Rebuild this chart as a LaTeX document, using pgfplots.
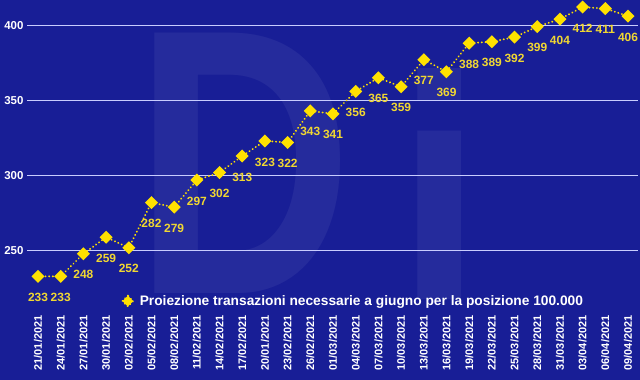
\documentclass[border=0pt]{standalone}
\usepackage{fontspec}
\setmainfont{Liberation Sans}
\usepackage{pgfplots}
\pgfplotsset{compat=1.18}
\definecolor{bg}{RGB}{24,30,150}
\definecolor{gridc}{RGB}{200,205,255}
\definecolor{ylw}{RGB}{255,225,0}
\definecolor{lbl}{RGB}{240,215,50}
\begin{document}
\begin{tikzpicture}
\fill[bg] (0bp,0bp) rectangle (640bp,380bp);
\useasboundingbox (0bp,0bp) rectangle (640bp,380bp);
\node[font=\fontsize{380}{380}\selectfont\bfseries, text=white, opacity=0.06, inner sep=0, xscale=0.8, anchor=base] at (244bp,86bp) {D};
\node[font=\fontsize{320}{320}\selectfont\bfseries, text=white, opacity=0.06, inner sep=0, anchor=base] at (440bp,80bp) {i};
\begin{axis}[
  at={(27bp,68bp)}, anchor=south west,
  width=611bp, height=312bp, scale only axis,
  xmin=-0.485, xmax=26.44, ymin=209.3, ymax=416.7,
  axis line style={draw=none},
  tick style={draw=none},
  clip=false,
  /pgf/number format/assume math mode=true,
  xtick={0,...,26},
  xticklabels={21/01/2021,24/01/2021,27/01/2021,30/01/2021,02/02/2021,05/02/2021,08/02/2021,11/02/2021,14/02/2021,17/02/2021,20/01/2021,23/02/2021,26/02/2021,01/03/2021,04/03/2021,07/03/2021,10/03/2021,13/03/2021,16/03/2021,19/03/2021,22/03/2021,25/03/2021,28/03/2021,31/03/2021,03/04/2021,06/04/2021,09/04/2021},
  xticklabel style={rotate=90, anchor=east, font=\fontsize{11}{12}\selectfont\bfseries, text=white},
  ytick={250,300,350,400},
  yticklabel style={font=\fontsize{11.5}{12}\selectfont\bfseries, text=white},
  ymajorgrids, grid style={gridc, line width=1.2bp},
  legend style={at={(0.15,0.035)}, anchor=west, draw=none, fill=none, text=white, font=\fontsize{13.8}{15}\selectfont\bfseries},
  legend image code/.code={\draw[mark=square*, mark size=3.8bp, mark options={rotate=45, fill=ylw, draw=ylw}] plot coordinates {(0bp,0bp)}; \path (-5bp,0bp) (9bp,0bp);},
]
\addplot[color=ylw, dash pattern=on 0.1bp off 3.6bp, line width=2bp, line cap=round,
  mark=square*, mark size=3.6bp, mark options={solid, rotate=45, fill=ylw, draw=ylw},
  nodes near coords,
  every node near coord/.append style={font=\fontsize{12}{13}\selectfont\bfseries, text=lbl, anchor=center, yshift=-21bp}]
coordinates {
(0,233) (1,233) (2,248) (3,259) (4,252) (5,282) (6,279) (7,297) (8,302) (9,313)
(10,323) (11,322) (12,343) (13,341) (14,356) (15,365) (16,359) (17,377) (18,369)
(19,388) (20,389) (21,392) (22,399) (23,404) (24,412) (25,411) (26,406)
};
\addlegendentry{Proiezione transazioni necessarie a giugno per la posizione 100.000}
\end{axis}
\end{tikzpicture}
\end{document}
